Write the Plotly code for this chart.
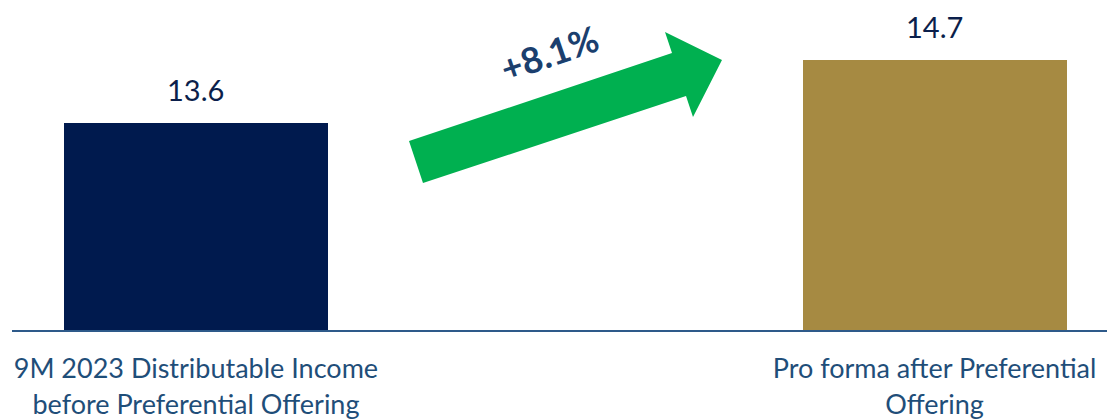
import plotly.graph_objects as go

categories = ["9M 2023 Distributable Income<br>before Preferential Offering",
              "Pro forma after Preferential<br>Offering"]
values = [13.6, 14.7]
value_labels = ["13.6", "14.7"]
bar_colors = ["#001A4E", "#A68A42"]
change_label = "+8.1%"

W, H = 1107, 419
ML, MR, MT, MB = 12, 0, 0, 89
x_pos = [2 * i for i in range(len(categories))]

fig = go.Figure()
fig.add_trace(go.Bar(
    x=x_pos, y=values, width=0.715,
    marker=dict(color=bar_colors, line=dict(width=0)),
    hoverinfo="skip",
))

for xp, v, lab in zip(x_pos, values, value_labels):
    fig.add_annotation(x=xp, y=v, text=lab, showarrow=False,
                       xanchor="center", yanchor="bottom", yshift=14,
                       font=dict(family="Lato", size=29, color="#0B1F4B"))

# arrow decoration (pixel coordinates -> paper)
pw, ph = W - ML - MR, H - MT - MB
def px(xp, yp):
    return ((xp - ML) / pw, (ph - (yp - MT)) / ph)
pts = [(409, 141), (672, 53), (665, 32), (722, 60), (693, 117), (686, 96), (423, 183)]
path = "M " + " L ".join(f"{px(a,b)[0]:.5f},{px(a,b)[1]:.5f}" for a, b in pts) + " Z"
fig.add_shape(type="path", path=path, xref="paper", yref="paper",
              fillcolor="#00B050", line=dict(width=0), layer="above")

tx, ty = px(549, 53)
fig.add_annotation(x=tx, y=ty, xref="paper", yref="paper", text="<b>" + change_label + "</b>",
                   showarrow=False, textangle=-19, xanchor="center", yanchor="middle",
                   font=dict(family="Lato", size=36, color="#1B3F6E"))

fig.update_layout(
    width=W, height=H,
    margin=dict(l=ML, r=MR, t=MT, b=MB),
    paper_bgcolor="white", plot_bgcolor="white",
    showlegend=False,
    bargap=0,
    xaxis=dict(range=[-0.498, 2.467], tickvals=x_pos, ticktext=categories,
               showgrid=False, zeroline=False, showline=True,
               linecolor="#2E5A8A", linewidth=2,
               ticks="outside", ticklen=14, tickcolor="rgba(0,0,0,0)",
               tickfont=dict(family="Lato", size=27, color="#1F4E79")),
    yaxis=dict(range=[10, 15.74], visible=False, showgrid=False),
)

fig.write_html("out.html")
